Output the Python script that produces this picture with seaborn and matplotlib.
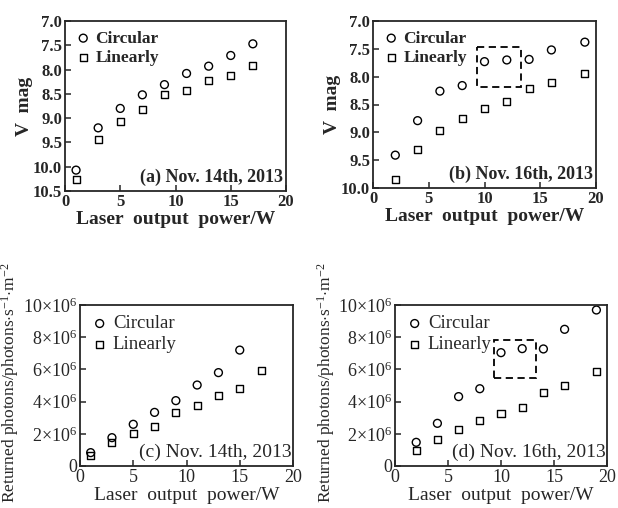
import matplotlib
matplotlib.use("Agg")
import matplotlib.pyplot as plt
import seaborn as sns
import pandas as pd
from matplotlib.patches import Rectangle

# ==========================================
# DATA
# ==========================================
power_nov14 = [1, 3, 5, 7, 9, 11, 13, 15, 17]
power_nov16 = [2, 4, 6, 8, 10, 12, 14, 16, 19]

vmag_circ_14 = [10.07, 9.20, 8.80, 8.52, 8.31, 8.08, 7.93, 7.71, 7.47]
vmag_lin_14 = [10.27, 9.44, 9.07, 8.83, 8.52, 8.43, 8.23, 8.13, 7.92]

vmag_circ_16 = [9.41, 8.79, 8.26, 8.16, 7.73, 7.70, 7.69, 7.52, 7.38]
vmag_lin_16 = [9.84, 9.31, 8.97, 8.75, 8.57, 8.45, 8.21, 8.11, 7.94]

# returned photons, units of 1e6
phot_circ_14 = [0.83, 1.76, 2.59, 3.33, 4.06, 5.03, 5.80, 7.20]
phot_lin_14 = [0.64, 1.45, 2.03, 2.48, 3.31, 3.73, 4.39, 4.83, 5.92]

phot_circ_16 = [1.47, 2.65, 4.31, 4.80, 7.04, 7.29, 7.27, 8.49, 9.69]
phot_lin_16 = [0.99, 1.66, 2.28, 2.80, 3.27, 3.66, 4.55, 4.99, 5.86]

vmag_ticks_a = [7.0, 7.5, 8.0, 8.5, 9.0, 9.5, 10.0, 10.5]
vmag_ticks_b = [7.0, 7.5, 8.0, 8.5, 9.0, 9.5, 10.0]
phot_ticks = [0, 2, 4, 6, 8, 10]
phot_ticklabels = ["0", r"2$\times$10$^6$", r"4$\times$10$^6$", r"6$\times$10$^6$",
                   r"8$\times$10$^6$", r"10$\times$10$^6$"]
x_ticks = [0, 5, 10, 15, 20]

# ==========================================
# STYLE
# ==========================================
sns.set_style("ticks")
plt.rcParams["font.family"] = ["Liberation Serif", "DejaVu Serif"]
plt.rcParams["mathtext.fontset"] = "custom"
plt.rcParams["mathtext.rm"] = "Liberation Serif"
plt.rcParams["mathtext.it"] = "Liberation Serif:italic"
plt.rcParams["axes.linewidth"] = 1.3
plt.rcParams["xtick.direction"] = "in"
plt.rcParams["ytick.direction"] = "in"

W, H = 618, 508
fig = plt.figure(figsize=(W / 100, H / 100), dpi=100)


def box(l, r, t, b):
    return [l / W, 1 - b / H, (r - l) / W, (b - t) / H]


ax_a = fig.add_axes(box(65, 286, 21, 191))
ax_b = fig.add_axes(box(373, 596, 21, 188))
ax_c = fig.add_axes(box(80, 293, 305, 466))
ax_d = fig.add_axes(box(395, 607, 305, 466))


def draw(ax, x_c, y_c, x_l, y_l):
    df_c = pd.DataFrame({"x": x_c, "y": y_c})
    df_l = pd.DataFrame({"x": x_l, "y": y_l})
    sns.scatterplot(data=df_c, x="x", y="y", ax=ax, marker="o", s=32,
                    facecolor="none", edgecolor="black", linewidth=1.0,
                    label="Circular")
    sns.scatterplot(data=df_l, x="x", y="y", ax=ax, marker="s", s=26,
                    facecolor="none", edgecolor="black", linewidth=1.0,
                    label="Linearly")


def finish(ax, weight, tsize, lsize, legsize):
    ax.set_xlim(0, 20)
    ax.set_xticks(x_ticks)
    ax.set_xlabel("Laser  output  power/W", fontsize=lsize, fontweight=weight,
                  labelpad=1)
    ax.tick_params(length=4, width=1.1, pad=2, labelsize=tsize)
    for lab in ax.get_xticklabels() + ax.get_yticklabels():
        lab.set_fontweight(weight)
    for s in ax.spines.values():
        s.set_visible(True)
    ax.legend(loc="upper left", frameon=False, handletextpad=0.2,
              borderaxespad=0.15, labelspacing=0.2,
              prop={"weight": weight, "size": legsize}, handlelength=1.0)


# (a) and (b): V magnitude
draw(ax_a, power_nov14, vmag_circ_14, power_nov14, vmag_lin_14)
ax_a.set_ylim(10.5, 7.0)
ax_a.set_yticks(vmag_ticks_a)
ax_a.set_yticklabels([f"{v:.1f}" for v in vmag_ticks_a])
finish(ax_a, "bold", 12, 14, 12.5)
ax_a.set_ylabel("V  mag", fontsize=14, fontweight="bold", labelpad=0)
ax_a.text(0.985, 0.03, "(a) Nov. 14th, 2013", transform=ax_a.transAxes,
          ha="right", va="bottom", fontsize=13, fontweight="bold")

draw(ax_b, power_nov16, vmag_circ_16, power_nov16, vmag_lin_16)
ax_b.set_ylim(10.0, 7.0)
ax_b.set_yticks(vmag_ticks_b)
ax_b.set_yticklabels([f"{v:.1f}" for v in vmag_ticks_b])
finish(ax_b, "bold", 12, 14, 12.5)
ax_b.set_ylabel("V  mag", fontsize=14, fontweight="bold", labelpad=0)
ax_b.text(0.985, 0.03, "(b) Nov. 16th, 2013", transform=ax_b.transAxes,
          ha="right", va="bottom", fontsize=13, fontweight="bold")
ax_b.add_patch(Rectangle((9.3, 7.47), 3.95, 0.72, fill=False,
                         edgecolor="black", linestyle=(0, (4, 2.5)), lw=1.3))

# (c) and (d): returned photons
ylab = r"Returned photons/photons$\cdot$s$^{-1}$$\cdot$m$^{-2}$"
for ax, xc, yc, xl, yl, tag in [
        (ax_c, power_nov14, phot_circ_14, power_nov14, phot_lin_14,
         "(c) Nov. 14th, 2013"),
        (ax_d, power_nov16, phot_circ_16, power_nov16, phot_lin_16,
         "(d) Nov. 16th, 2013")]:
    draw(ax, xc[:len(yc)], yc, xl, yl)
    ax.set_ylim(0, 10)
    ax.set_yticks(phot_ticks)
    ax.set_yticklabels(phot_ticklabels)
    finish(ax, "normal", 13, 14, 13.5)
    ax.set_ylabel(ylab, fontsize=12.5)
    ax.yaxis.set_label_coords(-0.275, 0.52)
    ax.text(0.995, 0.03, tag, transform=ax.transAxes,
            ha="right", va="bottom", fontsize=14)

ax_d.add_patch(Rectangle((9.32, 5.45), 4.02, 2.38, fill=False,
                         edgecolor="black", linestyle=(0, (4, 2.5)), lw=1.3))

fig.savefig("out.png", dpi=100)
